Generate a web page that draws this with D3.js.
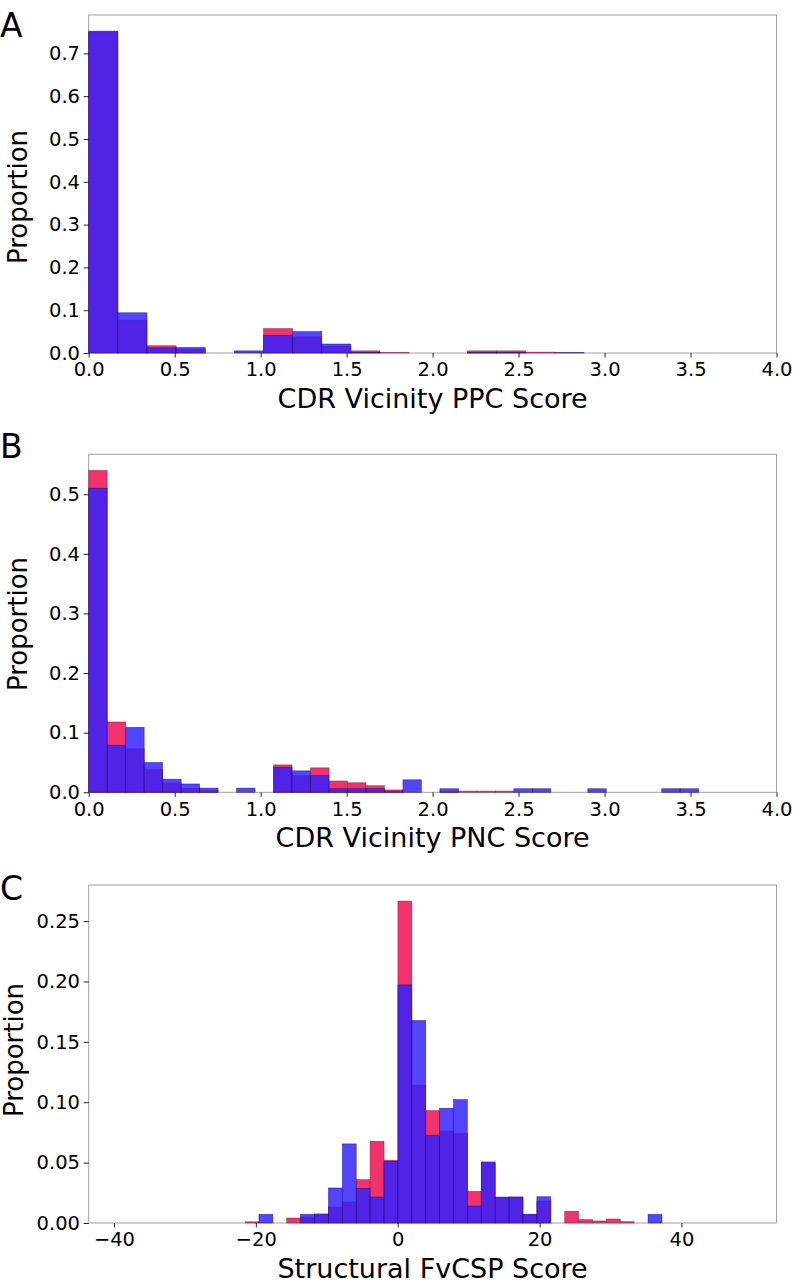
<!DOCTYPE html>
<html>
<head>
<meta charset="utf-8">
<script src="https://cdn.jsdelivr.net/npm/d3@7"></script>
<style>
  html, body { margin: 0; padding: 0; background: #fff; }
  svg { display: block; }
  text { font-family: "DejaVu Sans", Verdana, sans-serif; fill: #000; }
</style>
</head>
<body>
<svg id="chart" width="793" height="1284"></svg>
<script>
// ---------- DATA ----------
// Panel A: CDR Vicinity PPC Score histogram (17 bins from 0)
const A_binStart = 0;
const A_binWidth = 0.1694;
const A_red  = [0.750, 0.077, 0.017, 0.009, 0.000, 0.000, 0.057, 0.038, 0.016, 0.005, 0.001, 0.000, 0.000, 0.005, 0.005, 0.002, 0.000];
const A_blue = [0.752, 0.094, 0.012, 0.013, 0.000, 0.005, 0.041, 0.050, 0.021, 0.001, 0.000, 0.000, 0.000, 0.001, 0.001, 0.000, 0.001];
const A_xTicks = [0.0, 0.5, 1.0, 1.5, 2.0, 2.5, 3.0, 3.5, 4.0];
const A_yTicks = [0.0, 0.1, 0.2, 0.3, 0.4, 0.5, 0.6, 0.7];

// Panel B: CDR Vicinity PNC Score histogram (33 bins from 0)
const B_binStart = 0;
const B_binWidth = 0.1075;
const B_red  = [0.540, 0.118, 0.073, 0.038, 0.016, 0.007, 0.003, 0.000, 0.000, 0.000, 0.046, 0.028, 0.041, 0.019, 0.016, 0.011, 0.004, 0.000, 0.000, 0.001, 0.002, 0.002, 0.002, 0.000, 0.000, 0.000, 0.000, 0.000, 0.000, 0.000, 0.000, 0.000, 0.000];
const B_blue = [0.510, 0.079, 0.109, 0.050, 0.022, 0.014, 0.007, 0.000, 0.007, 0.000, 0.042, 0.036, 0.028, 0.006, 0.006, 0.006, 0.001, 0.021, 0.000, 0.006, 0.000, 0.000, 0.000, 0.006, 0.006, 0.000, 0.000, 0.006, 0.000, 0.000, 0.000, 0.006, 0.006];
const B_xTicks = [0.0, 0.5, 1.0, 1.5, 2.0, 2.5, 3.0, 3.5, 4.0];
const B_yTicks = [0.0, 0.1, 0.2, 0.3, 0.4, 0.5];

// Panel C: Structural FvCSP Score histogram (45 bins from -39.15)
const C_binStart = -39.15;
const C_binWidth = 1.959;
const C_red  = [0, 0, 0, 0, 0, 0, 0, 0, 0, 0.001, 0, 0, 0.0041, 0.005, 0.0072, 0.0133, 0.0174, 0.0359, 0.0677, 0.052,
                0.2666, 0.1141, 0.0931, 0.0762, 0.0740, 0.0262, 0.0497, 0.021, 0.0215, 0.007, 0.0182, 0, 0.0097, 0.0028, 0.0017, 0.0033, 0.0011, 0, 0, 0,
                0, 0, 0, 0, 0];
const C_blue = [0, 0, 0, 0, 0, 0, 0, 0, 0, 0, 0.0072, 0, 0, 0.0072, 0.0075, 0.029, 0.0655, 0.0287, 0.0215, 0.051,
                0.1972, 0.1677, 0.0727, 0.095, 0.1022, 0.0141, 0.0506, 0.0215, 0.0215, 0.0072, 0.0218, 0, 0, 0, 0, 0, 0, 0, 0.0072, 0,
                0, 0, 0, 0, 0];
const C_xTicks = [-40, -20, 0, 20, 40];
const C_yTicks = [0.00, 0.05, 0.10, 0.15, 0.20, 0.25];

const panels = [
  { letter: "A", top: 15,    xDomain: [0, 4], yMax: 0.7897, red: A_red, blue: A_blue, start: A_binStart, width: A_binWidth,
    xTicks: A_xTicks, yTicks: A_yTicks, xFmt: d3.format(".1f"), yFmt: d3.format(".1f"),
    xLabel: "CDR Vicinity PPC Score", letterY: 36.5, yLabelX: 27, yLabelY: 197 },
  { letter: "B", top: 454.3, xDomain: [0, 4], yMax: 0.567, red: B_red, blue: B_blue, start: B_binStart, width: B_binWidth,
    xTicks: B_xTicks, yTicks: B_yTicks, xFmt: d3.format(".1f"), yFmt: d3.format(".1f"),
    xLabel: "CDR Vicinity PNC Score", letterY: 458, yLabelX: 27, yLabelY: 624 },
  { letter: "C", top: 885,   xDomain: [-43.56, 53.4], yMax: 0.2799, red: C_red, blue: C_blue, start: C_binStart, width: C_binWidth,
    xTicks: C_xTicks, yTicks: C_yTicks, xFmt: d3.format("d"), yFmt: d3.format(".2f"),
    xLabel: "Structural FvCSP Score", letterY: 900, yLabelX: 22.5, yLabelY: 1050 }
];

// ---------- STYLE ----------
const left = 88.7, right = 776.5, plotH = 338;
const redFill = "rgb(242,50,108)";
const blueFill = "rgb(50,32,255)";
const blueOpacity = 0.84;

const svg = d3.select("#chart");

panels.forEach(p => {
  const g = svg.append("g");
  const bottom = p.top + plotH;
  const x = d3.scaleLinear().domain(p.xDomain).range([left, right]);
  const y = d3.scaleLinear().domain([0, p.yMax]).range([bottom, p.top]);

  // spines
  g.append("rect")
    .attr("x", left).attr("y", p.top)
    .attr("width", right - left).attr("height", plotH)
    .attr("fill", "none").attr("stroke", "#a0a0a0").attr("stroke-width", 1);

  const bins = (arr) => arr.map((v, i) => ({ x0: p.start + i * p.width, x1: p.start + (i + 1) * p.width, v }))
                          .filter(d => d.v > 0);

  // red series
  g.append("g").selectAll("rect").data(bins(p.red)).join("rect")
    .attr("x", d => x(d.x0)).attr("width", d => x(d.x1) - x(d.x0))
    .attr("y", d => y(d.v)).attr("height", d => y(0) - y(d.v))
    .attr("fill", redFill)
    .attr("stroke", "rgb(110,20,60)").attr("stroke-opacity", 0.6).attr("stroke-width", 0.7);

  // blue series (semi-transparent on top)
  g.append("g").selectAll("rect").data(bins(p.blue)).join("rect")
    .attr("x", d => x(d.x0)).attr("width", d => x(d.x1) - x(d.x0))
    .attr("y", d => y(d.v)).attr("height", d => y(0) - y(d.v))
    .attr("fill", blueFill).attr("fill-opacity", blueOpacity)
    .attr("stroke", "rgb(20,10,90)").attr("stroke-opacity", 0.6).attr("stroke-width", 0.7);

  // x axis
  const xa = g.append("g").attr("transform", `translate(0,${bottom})`)
    .call(d3.axisBottom(x).tickValues(p.xTicks).tickFormat(p.xFmt).tickSize(4.5).tickPadding(5));
  xa.select(".domain").remove();
  xa.selectAll("line").attr("stroke", "#222");
  xa.selectAll("text").style("font-size", "19.5px").attr("fill", "#000");

  // y axis
  const ya = g.append("g").attr("transform", `translate(${left},0)`)
    .call(d3.axisLeft(y).tickValues(p.yTicks).tickFormat(p.yFmt).tickSize(5).tickPadding(3.7));
  ya.select(".domain").remove();
  ya.selectAll("line").attr("stroke", "#222");
  ya.selectAll("text").style("font-size", "19.5px").attr("fill", "#000");

  // axis labels
  g.append("text").attr("x", (left + right) / 2).attr("y", bottom + 54.5)
    .attr("text-anchor", "middle").style("font-size", "27px").text(p.xLabel);
  g.append("text").attr("transform", `translate(${p.yLabelX},${p.yLabelY}) rotate(-90)`)
    .attr("text-anchor", "middle").style("font-size", "26px").text("Proportion");

  // panel letter
  g.append("text").attr("x", 0).attr("y", p.letterY)
    .style("font-size", "33px").text(p.letter);
});
</script>
</body>
</html>
